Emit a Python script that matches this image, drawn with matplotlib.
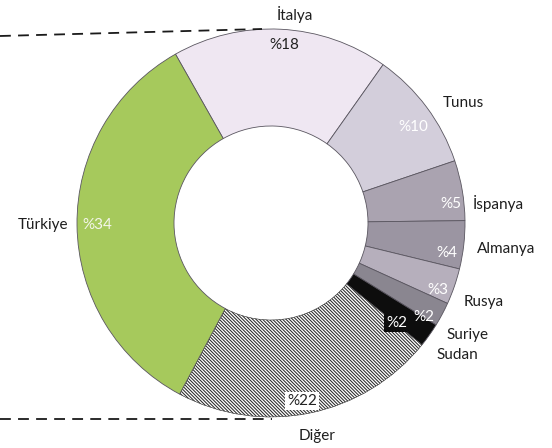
import matplotlib
matplotlib.use("Agg")
import matplotlib.pyplot as plt

plt.rcParams['font.family'] = ['Lato', 'DejaVu Sans']
plt.rcParams['hatch.linewidth'] = 0.75

# Shares by country (percent), clockwise from the top
countries = ["İtalya", "Tunus", "İspanya", "Almanya", "Rusya", "Suriye", "Sudan", "Diğer", "Türkiye"]
shares = [18, 10, 5, 4, 3, 2, 2, 22, 34]

colors = ["#efe7f2", "#d3cedb", "#aaa3b0", "#9b95a2", "#b6afbc", "#8a8690", "#0d0d0d", "#ffffff", "#a6c95c"]

W, H = 552, 448


def P(x, y):
    """Pixel position (origin top-left) to axes data coordinates."""
    return x, H - y


fig = plt.figure(figsize=(W / 100, H / 100), dpi=100)
ax = fig.add_axes([0, 0, 1, 1])

cx, cy = P(271, 223)
wedges, _ = ax.pie(
    shares, colors=colors, startangle=119.5, counterclock=False,
    center=(cx, cy), radius=194,
    wedgeprops=dict(width=97, edgecolor="#5a5660", linewidth=0.6),
)
# Densely hatched "Diğer" wedge
w = wedges[countries.index("Diğer")]
w.set_hatch("\\" * 10)
w.set_edgecolor("#2a2a2a")
w.set_linewidth(0.4)

ax.set_xlim(0, W)
ax.set_ylim(0, H)
ax.set_aspect("equal")
ax.axis("off")

# Label layout: name position, value position, value colour, value box
layout = {
    "İtalya":  dict(name=(295, 14), val=(284, 45), vc="#222222"),
    "Tunus":   dict(name=(463, 103), val=(413, 127), vc="white"),
    "İspanya": dict(name=(498, 203), val=(451, 204), vc="white"),
    "Almanya": dict(name=(506, 249), val=(447, 253), vc="white"),
    "Rusya":   dict(name=(484, 302), val=(438, 290), vc="white"),
    "Suriye":  dict(name=(467, 335), val=(424, 317), vc="white"),
    "Sudan":   dict(name=(457, 355), val=(397, 323), vc="white", box="#0d0d0d"),
    "Diğer":   dict(name=(317, 436), val=(302, 401), vc="#222222", box="white"),
    "Türkiye": dict(name=(43, 225), val=(97, 225), vc="#f4f6ea"),
}

fs = 11
for name, share in zip(countries, shares):
    lay = layout[name]
    ax.text(*P(*lay["name"]), name, ha="center", va="center",
            fontsize=fs, color="#1e1e1e")
    bbox = None
    if "box" in lay:
        bbox = dict(boxstyle="square,pad=0.15", fc=lay["box"], ec="none")
    ax.text(*P(*lay["val"]), f"%{share}", ha="center", va="center",
            fontsize=fs, color=lay["vc"], bbox=bbox)

# Dashed guide lines leaving the chart to the left
ax.plot(*zip(P(0, 36), P(262, 29)), color="#1a1a1a", lw=1.3,
        dashes=(6, 4), solid_capstyle="butt")
ax.plot(*zip(P(0, 419), P(272, 419)), color="#1a1a1a", lw=1.3,
        dashes=(6, 4), solid_capstyle="butt")

fig.savefig("out.png", dpi=100)
